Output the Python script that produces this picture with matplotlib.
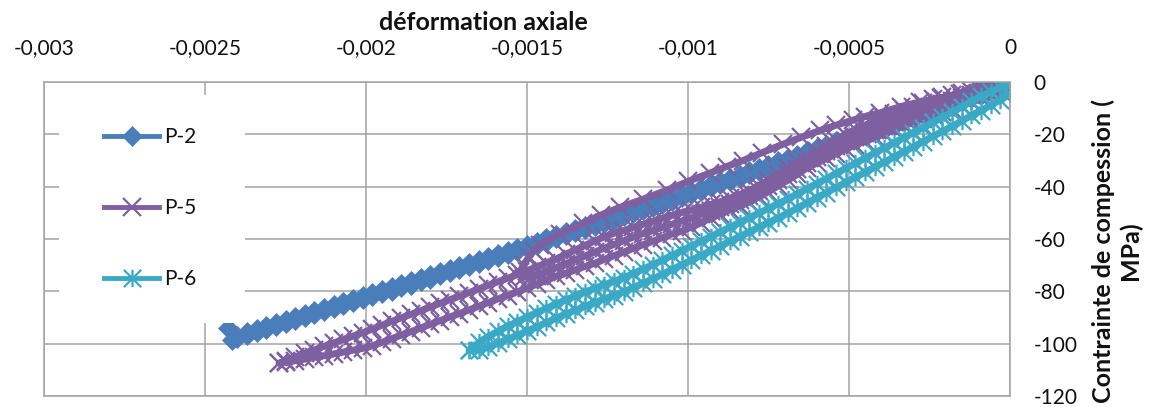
import numpy as np
import matplotlib
matplotlib.use("Agg")
import matplotlib.pyplot as plt
from matplotlib.path import Path
from matplotlib.patches import Rectangle

plt.rcParams['font.family'] = ['Lato', 'DejaVu Sans']

# ---------------- data (strain in micro-strain, stress in MPa) ----------------
series_names = ["P-2", "P-5", "P-6"]

x_tick_values = [-0.003, -0.0025, -0.002, -0.0015, -0.001, -0.0005, 0.0]
x_tick_labels = ["-0,003", "-0,0025", "-0,002", "-0,0015", "-0,001", "-0,0005", "0"]
y_tick_values = [-120, -100, -80, -60, -40, -20, 0]
y_tick_labels = ["-120", "-100", "-80", "-60", "-40", "-20", "0"]

# P-2
p2_strain = [0, -30, -60, -90, -120, -150, -180, -210, -240, -270,
             -300, -330, -360, -390, -420, -450, -480, -510, -540, -570,
             -600, -630, -660, -690, -720, -750, -780, -810, -840, -870,
             -900, -930, -960, -990, -1020, -1050, -1080, -1110, -1140, -1170,
             -1200, -1230, -1260, -1290, -1320, -1350, -1380, -1410, -1440, -1470,
             -1500, -1530, -1560, -1590, -1620, -1650, -1680, -1710, -1740, -1770,
             -1800, -1830, -1860, -1890, -1920, -1950, -1980, -2010, -2040, -2070,
             -2100, -2130, -2160, -2190, -2220, -2250, -2280, -2310, -2340, -2370,
             -2400]
p2_load = [0.0, -0.7, -2.0, -3.3, -4.6, -5.9, -7.2, -8.5, -9.8, -11.1,
           -12.4, -13.7, -15.0, -16.3, -17.6, -18.9, -20.1, -21.4, -22.7, -24.0,
           -25.3, -26.5, -27.8, -29.1, -30.3, -31.6, -32.9, -34.1, -35.4, -36.6,
           -37.9, -39.1, -40.4, -41.6, -42.9, -44.1, -45.3, -46.5, -47.8, -49.0,
           -50.2, -51.4, -52.6, -53.8, -55.0, -56.2, -57.4, -58.6, -59.8, -61.0,
           -62.2, -63.4, -64.5, -65.7, -66.9, -68.1, -69.2, -70.4, -71.5, -72.7,
           -73.9, -75.0, -76.2, -77.3, -78.5, -79.6, -80.7, -81.9, -83.0, -84.2,
           -85.3, -86.4, -87.6, -88.7, -89.8, -91.0, -92.1, -93.2, -94.3, -95.5,
           -96.9]
p2_peak_strain = [-2415, -2430]
p2_peak_stress = [-98.5, -94.0]
p2_unload = [-1.0, -1.9, -3.2, -4.5, -5.8, -7.1, -8.4, -9.7, -11.0, -12.3,
             -13.6, -14.9, -16.2, -17.5, -18.8, -20.1, -21.3, -22.6, -23.9, -25.2,
             -26.5, -27.7, -29.0, -30.3, -31.5, -32.8, -34.1, -35.3, -36.6, -37.8,
             -39.1, -40.3, -41.6, -42.8, -44.1, -45.3, -46.5, -47.7, -49.0, -50.2,
             -51.4, -52.6, -53.8, -55.0, -56.2, -57.4, -58.6, -59.8, -61.0, -62.2,
             -63.4, -64.6, -65.7, -66.9, -68.1, -69.3, -70.4, -71.6, -72.7, -73.9,
             -75.1, -76.2, -77.4, -78.5, -79.7, -80.8, -81.9, -83.1, -84.2, -85.4,
             -86.5, -87.6, -88.8, -89.9, -91.0, -92.2, -93.3, -94.4, -95.6, -96.7,
             -97.7]

# P-5
p5_first_strain = [-10, -31, -90, -155, -215, -280, -340, -404, -450, -488,
                   -540, -590, -650, -705, -770, -829, -880, -932, -1000, -1065,
                   -1140, -1211, -1270, -1326, -1398, -1460]
p5_first_stress = [0.0, -0.4, -2.4, -4.6, -6.2, -7.6, -9.4, -11.8, -13.2, -14.6,
                   -16.5, -18.5, -21.2, -23.8, -27.0, -30.0, -32.3, -34.8, -38.0, -41.3,
                   -44.8, -47.9, -50.8, -54.0, -58.0, -62.3]
p5_hold_strain = [-1478, -1495, -1510, -1522, -1510, -1490]
p5_hold_stress = [-64.5, -67.0, -69.8, -72.5, -74.5, -74.8]
p5_strain = [0, -30, -60, -90, -120, -150, -180, -210, -240, -270,
             -300, -330, -360, -390, -420, -450, -480, -510, -540, -570,
             -600, -630, -660, -690, -720, -750, -780, -810, -840, -870,
             -900, -930, -960, -990, -1020, -1050, -1080, -1110, -1140, -1170,
             -1200, -1230, -1260, -1290, -1320, -1350, -1380, -1410, -1440, -1470,
             -1500, -1530, -1560, -1590, -1620, -1650, -1680, -1710, -1740, -1770,
             -1800, -1830, -1860, -1890, -1920, -1950, -1980, -2010, -2040, -2070,
             -2100, -2130, -2160, -2190, -2220, -2250, -2270]
p5_unload1 = [-0.5, -1.6, -2.8, -3.9, -5.1, -6.2, -7.3, -8.5, -9.6, -11.0,
              -12.4, -13.8, -15.3, -16.7, -18.2, -19.6, -21.0, -22.6, -24.4, -26.2,
              -28.8, -30.9, -33.1, -35.3, -37.5, -39.6, -41.7, -43.5, -45.0, -46.5,
              -47.9, -49.2, -50.6, -51.9, -53.2, -54.4, -55.6, -56.8, -57.9, -59.3,
              -60.7, -62.1, -63.5, -65.0, -66.5, -68.0, -69.5, -71.0, -72.5, -74.0]
p5_reload = [0.0, -0.8, -1.7, -2.5, -3.4, -4.2, -5.0, -5.9, -6.6, -8.0,
             -9.4, -10.8, -12.3, -13.7, -15.2, -16.6, -18.0, -20.1, -22.2, -24.3,
             -26.4, -28.5, -30.7, -32.9, -35.2, -37.4, -39.6, -41.5, -43.0, -44.4,
             -45.8, -46.8, -47.9, -48.9, -49.9, -51.0, -52.1, -53.3, -54.4, -55.6,
             -56.8, -57.8, -59.2, -60.7, -62.5, -64.2, -65.9, -67.7, -69.2, -70.7,
             -72.2, -73.6, -75.0, -76.3, -77.7, -79.1, -80.5, -81.9, -83.2, -84.6,
             -86.0, -87.4, -88.8, -90.1, -91.5, -92.9, -94.4, -95.8, -97.1, -98.4,
             -99.7, -101.0, -102.4, -103.7, -105.1, -106.5, -107.5]
p5_unload2 = [-2.3, -3.6, -5.0, -6.3, -7.7, -9.0, -10.3, -11.5, -12.6, -14.0,
              -15.4, -16.8, -18.3, -19.7, -21.2, -22.6, -24.0, -25.6, -27.4, -29.2,
              -31.0, -32.8, -35.3, -37.5, -39.7, -41.9, -44.0, -45.9, -47.4, -48.9,
              -50.4, -52.0, -53.7, -55.5, -57.0, -58.1, -59.5, -60.9, -62.2, -63.6,
              -65.0, -66.4, -67.8, -69.3, -70.5, -71.8, -73.1, -74.3, -75.8, -77.3,
              -78.8, -80.2, -81.6, -82.9, -84.3, -85.7, -87.1, -88.5, -89.8, -91.2,
              -92.6, -94.0, -95.4, -96.7, -98.1, -99.5, -100.8, -101.8, -102.5, -103.2,
              -103.9, -104.6, -105.2, -105.9, -106.5, -107.1, -107.5]

# P-6
p6_strain = [0, -30, -60, -90, -120, -150, -180, -210, -240, -270,
             -300, -330, -360, -390, -420, -450, -480, -510, -540, -570,
             -600, -630, -660, -690, -720, -750, -780, -810, -840, -870,
             -900, -930, -960, -990, -1020, -1050, -1080, -1110, -1140, -1170,
             -1200, -1230, -1260, -1290, -1320, -1350, -1380, -1410, -1440, -1470,
             -1500, -1530, -1560, -1590, -1620, -1650, -1680]
p6_load = [-1.0, -2.0, -3.7, -5.5, -7.4, -9.5, -11.5, -13.5, -15.4, -17.4,
           -19.3, -21.3, -23.2, -25.2, -27.1, -29.1, -31.0, -33.0, -34.9, -36.9,
           -38.8, -40.8, -42.7, -44.7, -46.5, -48.3, -50.1, -51.9, -53.7, -55.5,
           -57.3, -59.1, -60.9, -62.7, -64.5, -66.3, -68.1, -69.9, -71.5, -73.2,
           -74.8, -76.2, -77.5, -78.9, -80.3, -81.8, -83.3, -84.9, -86.5, -88.2,
           -89.8, -91.6, -93.3, -95.2, -97.3, -99.5, -102.6]
p6_unload = [-4.5, -6.8, -8.9, -10.9, -12.8, -14.9, -16.9, -18.9, -20.8, -22.8,
             -24.7, -26.7, -28.6, -30.6, -32.5, -34.5, -36.4, -38.4, -40.3, -42.3,
             -44.2, -46.2, -48.1, -50.1, -51.9, -53.7, -55.5, -57.3, -59.1, -60.9,
             -62.7, -64.5, -66.3, -68.1, -69.9, -71.7, -73.5, -75.3, -76.9, -78.6,
             -80.2, -81.6, -82.9, -84.3, -85.7, -87.2, -88.7, -90.3, -91.9, -93.6,
             -95.2, -96.8, -98.3, -99.8, -101.2, -102.3, -102.6]

# ---------------- assemble series ----------------
p2_x = p2_strain + p2_peak_strain + p2_strain[::-1]
p2_y = p2_load + p2_peak_stress + p2_unload[::-1]

n1 = len(p5_unload1)
p5_x = (p5_first_strain + p5_hold_strain + p5_strain[:n1][::-1]
        + p5_strain + p5_strain[::-1])
p5_y = (p5_first_stress + p5_hold_stress + p5_unload1[::-1]
        + p5_reload + p5_unload2[::-1])

p6_x = p6_strain + p6_strain[::-1]
p6_y = p6_load + p6_unload[::-1]

# ---------------- figure ----------------
W, H = 1150, 407
fig = plt.figure(figsize=(W / 100, H / 100), dpi=100)
ax = fig.add_axes([44 / W, 1 - 396 / H, 966 / W, 314 / H])

c_blue = '#4A7EBB'
c_purple = '#7E60A0'
c_cyan = '#3AA9C6'

star = Path([(0, -1), (0, 1), (-1, -1), (1, 1), (-1, 1), (1, -1)],
            [Path.MOVETO, Path.LINETO, Path.MOVETO, Path.LINETO, Path.MOVETO, Path.LINETO])

lw = 5.0
ax.plot(np.array(p2_x) * 1e-6, p2_y, color=c_blue, lw=lw, marker='D', ms=10,
        mew=0.5, mec=c_blue, label=series_names[0])
ax.plot(np.array(p5_x) * 1e-6, p5_y, color=c_purple, lw=lw, marker='x', ms=12.5,
        mew=1.6, mec=c_purple, label=series_names[1])
ax.plot(np.array(p6_x) * 1e-6, p6_y, color=c_cyan, lw=lw, marker=star, ms=12.5,
        mew=1.6, mec=c_cyan, mfc='none', label=series_names[2])

ax.set_xlim(-0.003, 0)
ax.set_ylim(-120, 0)
ax.set_xticks(x_tick_values)
ax.set_xticklabels(x_tick_labels)
ax.set_yticks(y_tick_values)
ax.set_yticklabels(y_tick_labels)
ax.xaxis.tick_top()
ax.yaxis.tick_right()
ax.tick_params(axis='both', length=0, labelsize=15, labelcolor='#111111')
ax.tick_params(axis='x', pad=17)
ax.tick_params(axis='y', pad=17)

grid_c = '#A3A3A3'
ax.grid(True, color=grid_c, lw=1.1)
ax.set_axisbelow(True)
for sp in ax.spines.values():
    sp.set_color(grid_c)
    sp.set_linewidth(1.1)

# legend background box
ax.add_patch(Rectangle((59 / W, 1 - 323 / H), 186 / W, 228 / H,
                       transform=fig.transFigure, facecolor='white',
                       edgecolor='none', zorder=4, clip_on=False))
leg = ax.legend(loc='center left', bbox_to_anchor=(104 / W, 1 - 208 / H),
                bbox_transform=fig.transFigure, frameon=False, borderpad=0,
                borderaxespad=0, handlelength=2.64, handletextpad=0.24,
                labelspacing=2.45, fontsize=15, numpoints=1)
leg.set_zorder(5)
for ln in leg.get_lines():
    ln.set_linewidth(3.5)
for t in leg.get_texts():
    t.set_color('#111111')

fig.text(483 / W, 1 - 22 / H, 'déformation axiale', ha='center', va='center',
         fontsize=18, fontweight='bold', color='#111111')
fig.text(1117 / W, 1 - 251 / H, 'Contrainte de compession (\nMPa)', rotation=90,
         ha='center', va='center', multialignment='center', fontsize=18,
         fontweight='bold', linespacing=1.2, color='#111111')

fig.savefig('out.png', dpi=100)
